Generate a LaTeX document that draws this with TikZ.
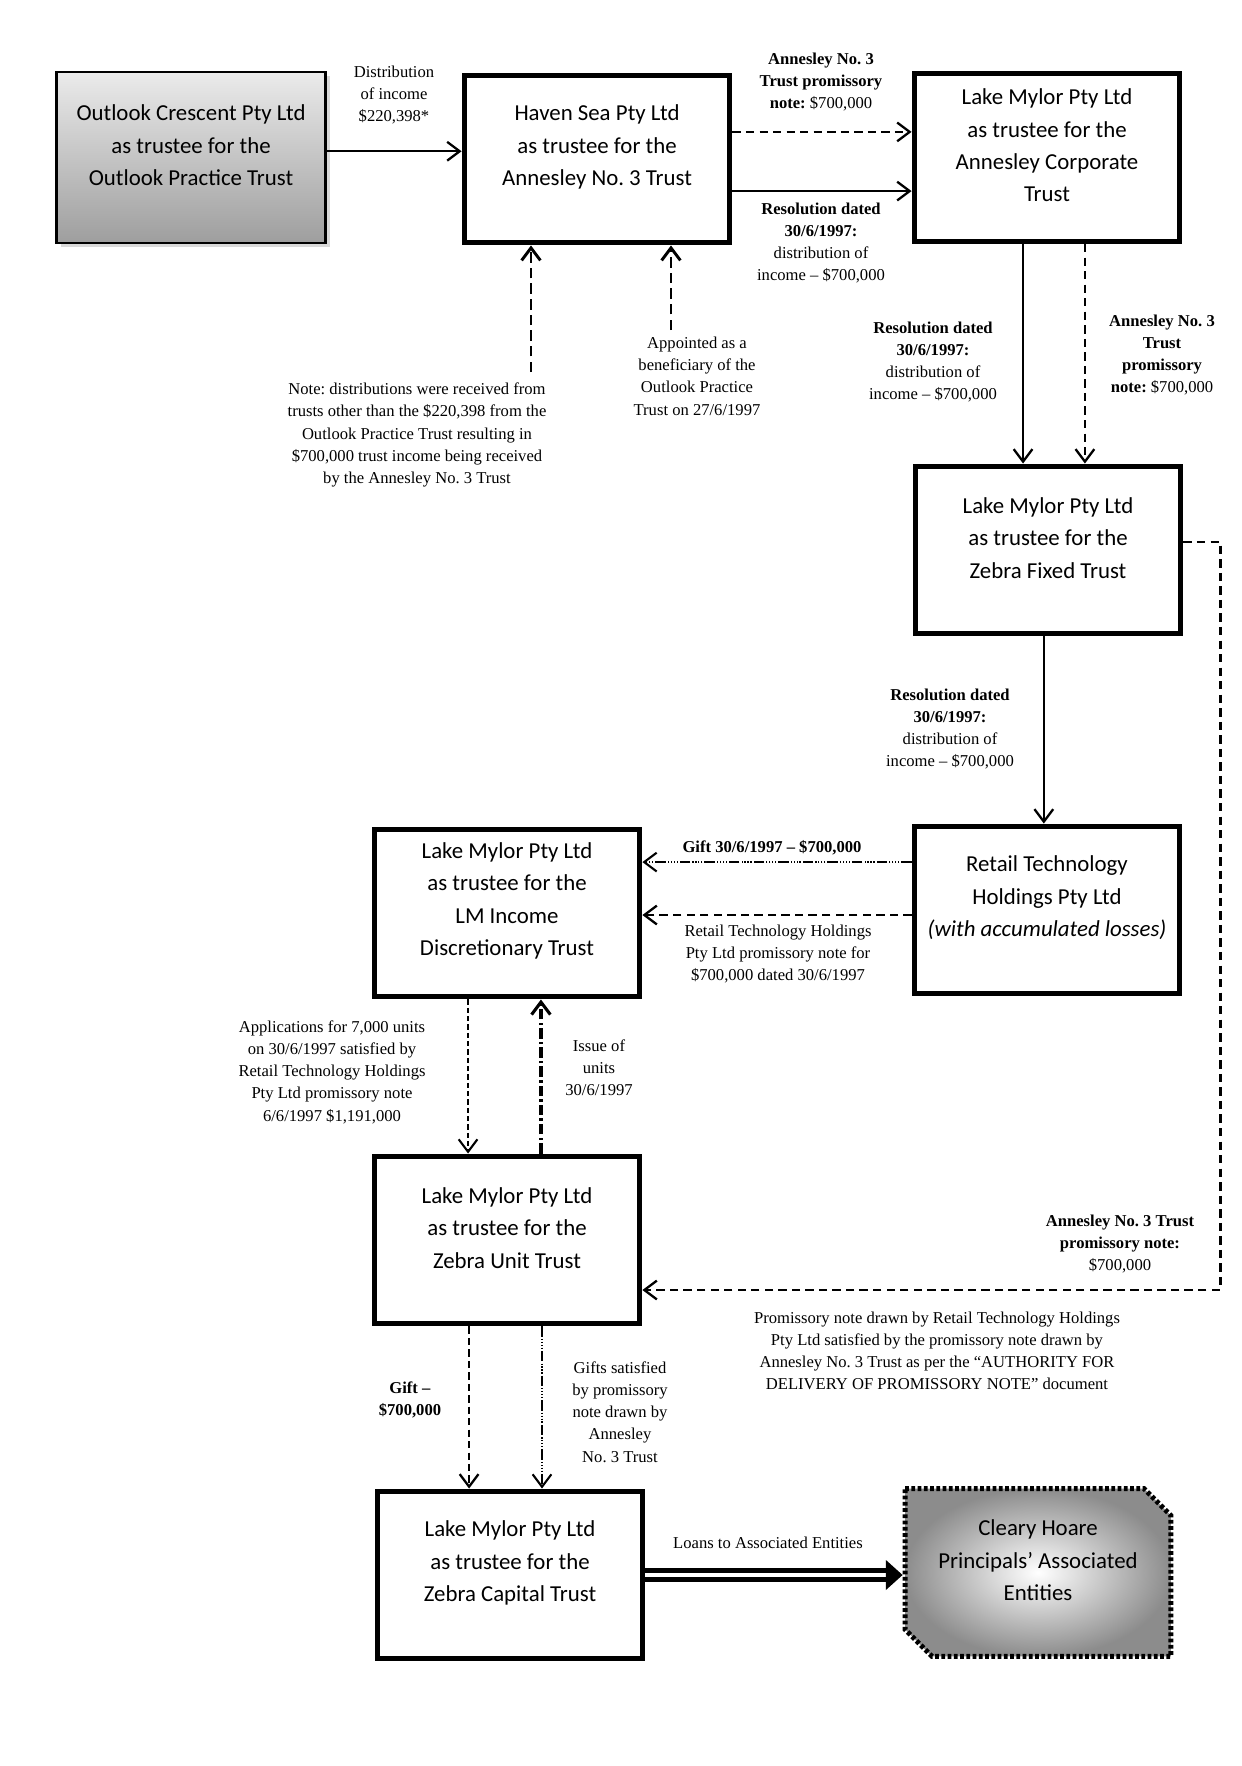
\documentclass[tikz,border=0pt]{standalone}
\usepackage{fontspec}
\setmainfont{Liberation Serif}
\newfontfamily\boxfont{Carlito}
\usetikzlibrary{positioning,arrows.meta,shadows}
\frenchspacing

\tikzset{
  entity/.style={
    rectangle,
    draw=black,
    line width=2.4bp,
    minimum width=127.6bp,
    minimum height=80.6bp,
    inner sep=0pt
  },
  trust/.style={entity,label={[boxtext,yshift=5.8bp]center:#1}},
  boxtext/.style={font=\boxfont\fontsize{11}{15.6}\selectfont,align=center},
  lbl/.style={font=\fontsize{8}{10.7}\selectfont,align=center,inner sep=0pt}
}
\tikzset{
  solidflow/.style={line width=1.1bp},
  notedash/.style={line width=1.4bp,dash pattern=on 5bp off 2.5bp},
  promdash/.style={line width=1.1bp,dash pattern=on 4bp off 2.5bp},
  giftdots/.style={line width=1bp,
    dash pattern=on 5bp off 1bp on .6bp off .8bp on .6bp off .8bp on .6bp off .8bp on .6bp off 1bp},
  unitdash/.style={line width=1bp,dash pattern=on 2.5bp off 1.5bp},
  issuedash/.style={line width=1.5bp,dash pattern=on 5bp off 1.5bp on 1.2bp off 1.5bp},
  giftdash/.style={line width=1.1bp,dash pattern=on 3.5bp off 2bp},
  loanline/.style={line width=2.5bp,double=white,double distance=1.5bp},
  assocline/.style={line width=2.4bp,dash pattern=on 1.8bp off 1.2bp,
    inner color=white,outer color=black!45}
}

\begin{document}
\begin{tikzpicture}[x=0.48bp,y=-0.48bp,>={Straight Barb[length=6bp,width=9bp]}]
\useasboundingbox (0,0) rectangle (1241,1766);

% entities
\node[trust={Outlook Crescent Pty Ltd\\as trustee for the\\Outlook Practice Trust},
      line width=1.2bp,minimum width=129bp,minimum height=82bp,
      top color=black!8,bottom color=black!38,
      drop shadow={shadow xshift=2bp,shadow yshift=-2bp,opacity=.3}]
  (outlook) at (191,157.5) {};

\node[trust={Haven Sea Pty Ltd\\as trustee for the\\Annesley No. 3 Trust}]
  (haven) at (597,159) {};

\node[trust={Lake Mylor Pty Ltd\\as trustee for the\\Annesley Corporate\\Trust}]
  (lmac) at (1047,157.5) {};

\node[trust={Lake Mylor Pty Ltd\\as trustee for the\\Zebra Fixed Trust}]
  (zfixed) at (1048,550) {};

\node[trust={Retail Technology\\Holdings Pty Ltd\\\textit{(with accumulated losses)}}]
  (retail) at (1047,910) {};

\node[trust={Lake Mylor Pty Ltd\\as trustee for the\\LM Income\\Discretionary Trust}]
  (lmincome) at (507,913) {};

\node[trust={Lake Mylor Pty Ltd\\as trustee for the\\Zebra Unit Trust}]
  (zunit) at (507,1240) {};

\node[trust={Lake Mylor Pty Ltd\\as trustee for the\\Zebra Capital Trust}]
  (zcap) at (510,1575) {};

% chamfered box for the associated entities
\node[entity,draw=none,outer sep=0pt] (chp) at (1038,1572.5) {};
\draw[assocline] (chp.north west) -- ([xshift=-13bp]chp.north east)
  -- ([yshift=-13bp]chp.north east) -- (chp.south east)
  -- ([xshift=13bp]chp.south west) -- ([yshift=13bp]chp.south west) -- cycle;
\node[boxtext] (chptext) at ([yshift=5.8bp]chp.center)
  {Cleary Hoare\\Principals’ Associated\\Entities};

% flows
\draw[->,solidflow] ([yshift=3bp]outlook.east) -- ([yshift=3bp]outlook.east -| haven.west);
\draw[->,promdash] ([yshift=13bp]haven.east) -- ([yshift=13bp]haven.east -| lmac.west);
\draw[->,solidflow] ([yshift=-15.4bp]haven.east) -- ([yshift=-15.4bp]haven.east -| lmac.west);

\coordinate (notefoot) at (531,372);
\coordinate (apptfoot) at (671,330);
\draw[->,notedash] (notefoot) -- (notefoot |- haven.south);
\draw[->,notedash] (apptfoot) -- (apptfoot |- haven.south);

\draw[->,solidflow] ([xshift=-11.5bp]lmac.south) -- ([xshift=-11.5bp]lmac.south |- zfixed.north);
\draw[->,promdash] ([xshift=18.2bp]lmac.south) -- ([xshift=18.2bp]lmac.south |- zfixed.north);

\draw[->,solidflow] ([xshift=-2bp]zfixed.south) -- ([xshift=-2bp]zfixed.south |- retail.north);

\draw[->,giftdots] ([yshift=23bp]retail.west) -- ([yshift=23bp]retail.west -| lmincome.east);
\draw[->,promdash] ([yshift=-2.4bp]retail.west) -- ([yshift=-2.4bp]retail.west -| lmincome.east);

\draw[->,unitdash] ([xshift=-18.7bp]lmincome.south) -- ([xshift=-18.7bp]lmincome.south |- zunit.north);
\draw[->,issuedash] ([xshift=16.3bp]zunit.north) -- ([xshift=16.3bp]zunit.north |- lmincome.south);

\draw[->,promdash] ([yshift=3.8bp]zfixed.east) -- ++(37,0) |- ([yshift=-24bp]zunit.east);

\draw[->,giftdash] ([xshift=-18.2bp]zunit.south) -- ([xshift=-18.2bp]zunit.south |- zcap.north);
\draw[->,giftdots] ([xshift=16.8bp]zunit.south) -- ([xshift=16.8bp]zunit.south |- zcap.north);

% loans
\coordinate (loantip) at ([xshift=-1.2bp]zcap.east -| chp.west);
\draw[loanline] (zcap.east) -- ([xshift=-7bp]loantip);
\fill ([xshift=-8bp,yshift=7.2bp]loantip) -- (loantip) -- ([xshift=-8bp,yshift=-7.2bp]loantip) -- cycle;

% labels
\node[lbl] (ldist) at (394,95) {Distribution\\of income\\\$220,398*};
\node[lbl] (lprom1) at (821,82)
  {\textbf{Annesley No. 3}\\\textbf{Trust promissory}\\\textbf{note:} \$700,000};
\node[lbl] (lres1) at (821,243)
  {\textbf{Resolution dated}\\\textbf{30/6/1997:}\\distribution of\\income -- \$700,000};
\node[lbl] (lnote) at (417,435)
  {Note: distributions were received from\\trusts other than the \$220,398 from the\\Outlook Practice Trust resulting in\\\$700,000 trust income being received\\by the Annesley No. 3 Trust};
\node[lbl] (lappt) at (697,376)
  {Appointed as a\\beneficiary of the\\Outlook Practice\\Trust on 27/6/1997};
\node[lbl] (lres2) at (933,362)
  {\textbf{Resolution dated}\\\textbf{30/6/1997:}\\distribution of\\income -- \$700,000};
\node[lbl] (lprom2) at (1162,355)
  {\textbf{Annesley No. 3}\\\textbf{Trust}\\\textbf{promissory}\\\textbf{note:} \$700,000};
\node[lbl] (lres3) at (950,729)
  {\textbf{Resolution dated}\\\textbf{30/6/1997:}\\distribution of\\income -- \$700,000};
\node[lbl] (lgift) at (772,848) {\textbf{Gift 30/6/1997 -- \$700,000}};
\node[lbl] (lrthnote) at (778,954)
  {Retail Technology Holdings\\Pty Ltd promissory note for\\\$700,000 dated 30/6/1997};
\node[lbl] (lapps) at (332,1072)
  {Applications for 7,000 units\\on 30/6/1997 satisfied by\\Retail Technology Holdings\\Pty Ltd promissory note\\6/6/1997 \$1,191,000};
\node[lbl] (lissue) at (599,1068) {Issue of\\units\\30/6/1997};
\node[lbl] (lprom3) at (1120,1244)
  {\textbf{Annesley No. 3 Trust}\\\textbf{promissory note:}\\\$700,000};
\node[lbl] (lauth) at (937,1351)
  {Promissory note drawn by Retail Technology Holdings\\Pty Ltd satisfied by the promissory note drawn by\\Annesley No. 3 Trust as per the “AUTHORITY FOR\\DELIVERY OF PROMISSORY NOTE” document};
\node[lbl] (lgift2) at (410,1400) {\textbf{Gift --}\\\textbf{\$700,000}};
\node[lbl] (lgifts) at (620,1412)
  {Gifts satisfied\\by promissory\\note drawn by\\Annesley\\No. 3 Trust};
\node[lbl] (lloans) at (768,1543) {Loans to Associated Entities};

\end{tikzpicture}
\end{document}
